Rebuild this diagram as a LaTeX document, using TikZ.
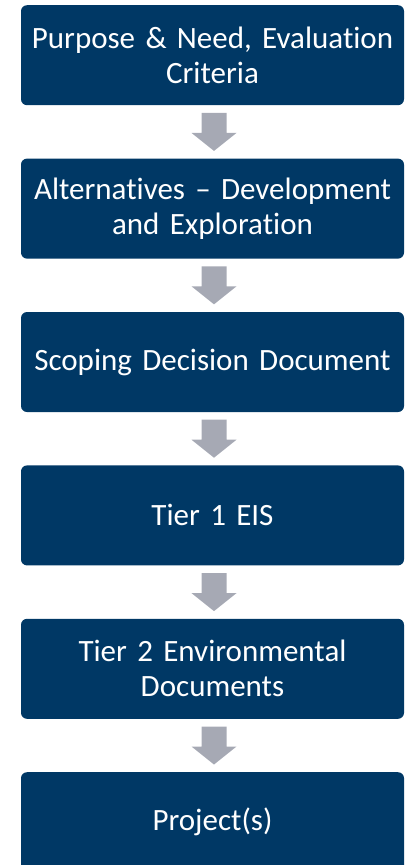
\documentclass[tikz,border=0pt]{standalone}
\usepackage{fontspec}
\setmainfont[Ligatures=NoCommon]{Carlito}
\usetikzlibrary{positioning, calc}
\definecolor{navy}{RGB}{0,56,101}
\definecolor{arrowgray}{RGB}{166,169,180}
\tikzset{stepbox/.style={rectangle, rounded corners=6pt, fill=navy, text=white, minimum width=383pt, minimum height=100pt, text width=380pt, align=center, inner sep=0pt, font=\fontsize{31}{35}\selectfont}}

\begin{document}
\begin{tikzpicture}[x=1pt, y=1pt, node distance=53pt]
                 \useasboundingbox (0,0) rectangle (406,-865);

                 \node[stepbox, anchor=north] (purpose) at (212.5,-5) {Purpose \& Need, Evaluation\\Criteria};
                 \node[stepbox, below=of purpose] (alts) {Alternatives -- Development\\and Exploration};
                 \node[stepbox, below=of alts] (scoping) {Scoping Decision Document};
                 \node[stepbox, below=of scoping] (tierone) {Tier 1 EIS};
                 \node[stepbox, below=of tierone] (tiertwo) {Tier 2 Environmental\\Documents};
                 \node[stepbox, below=of tiertwo] (project) {Project(s)};

                 \foreach \a/\b in {purpose/alts, alts/scoping, scoping/tierone, tierone/tiertwo, tiertwo/project}
                     \fill[arrowgray] ($(\a.south)!.5!(\b.north)+(1.5,0)$) ++(-12.5,19) -- ++(25,0) -- ++(0,-20) -- ++(10,0)
                         -- ++(-22.5,-18) -- ++(-22.5,18) -- ++(10,0) -- cycle;
\end{tikzpicture}
\end{document}
